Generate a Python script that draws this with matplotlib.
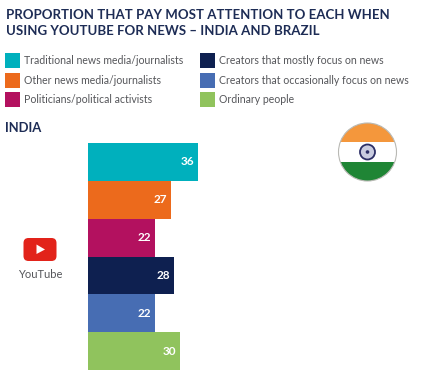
import matplotlib
matplotlib.use("Agg")
import matplotlib.pyplot as plt
from matplotlib.patches import Circle, FancyBboxPatch, Polygon, Rectangle

categories = [
    "Traditional news media/journalists",
    "Other news media/journalists",
    "Politicians/political activists",
    "Creators that mostly focus on news",
    "Creators that occasionally focus on news",
    "Ordinary people",
]
values = [36, 27, 22, 28, 22, 30]
colors = ["#00b0bd", "#ec6a1c", "#b3115f", "#0e2050", "#476db3", "#90c35d"]
title_lines = [
    "PROPORTION THAT PAY MOST ATTENTION TO EACH WHEN",
    "USING YOUTUBE FOR NEWS – INDIA AND BRAZIL",
]

W, H = 432, 373
NAVY = "#1d2c55"
GREY = "#55565a"
plt.rcParams["font.family"] = ["Lato", "DejaVu Sans"]

fig = plt.figure(figsize=(W / 100, H / 100), dpi=100)

# overlay in pixel coordinates for text, legend and icons
bg = fig.add_axes([0, 0, 1, 1])
bg.set_xlim(0, W)
bg.set_ylim(H, 0)
bg.axis("off")

bg.text(5.5, 15, title_lines[0], fontsize=9.5, fontweight="bold", color=NAVY, va="center")
bg.text(5.5, 31, title_lines[1], fontsize=9.5, fontweight="bold", color=NAVY, va="center")
bg.text(5.5, 127.5, "INDIA", fontsize=9.4, fontweight="bold", color=NAVY, va="center")

# legend, filled column by column
leg_x = [5, 200]
leg_y = [60, 80, 99.5]
for i, (name, col) in enumerate(zip(categories, colors)):
    x = leg_x[i // 3]
    y = leg_y[i % 3]
    bg.add_patch(Rectangle((x, y - 7.5), 15, 15, color=col, lw=0))
    bg.text(x + 19, y, name, fontsize=7.6, color=GREY, va="center")

# youtube icon
bg.add_patch(FancyBboxPatch((23.5, 238), 33, 23, boxstyle="round,pad=0,rounding_size=5",
                            fc="#e2231a", ec="none", mutation_aspect=1))
bg.add_patch(Polygon([[36.5, 244.5], [36.5, 254], [45, 249.5]], fc="white", ec="none"))
bg.text(40, 274, "YouTube", fontsize=8, color=GREY, ha="center", va="center")

# flag
cx, cy, r = 367.5, 152, 29
clip = Circle((cx, cy), r, transform=bg.transData)
for top, h, col in [(cy - r, 19, "#f4973c"), (cy - r + 19, 20, "white"), (cy - r + 39, 19, "#1f8535")]:
    p = bg.add_patch(Rectangle((cx - r, top), 2 * r, h, fc=col, ec="none"))
    p.set_clip_path(clip)
bg.add_patch(Circle((cx, cy), r, fc="none", ec="#b9b9b4", lw=0.8))
bg.add_patch(Circle((cx, cy), 7.5, fc="#c9cce0", ec="#2c2f66", lw=1.3))
bg.add_patch(Circle((cx, cy), 1.8, fc="#2c2f66", ec="none"))

# bars
left, right, top, bottom = 87.5, 87.5 + 3.08 * 40, 143, 370
ax = fig.add_axes([left / W, 1 - bottom / H, (right - left) / W, (bottom - top) / H])
ax.patch.set_visible(False)
ax.barh(range(len(values)), values, height=1.0, color=colors)
ax.set_xlim(0, 40)
ax.set_ylim(len(values) - 0.5, -0.5)
ax.axis("off")
for i, v in enumerate(values):
    ax.text(v - 1.3, i, str(v), color="white", fontsize=8.5, fontweight="bold", ha="right", va="center")

fig.savefig("out.png", dpi=100)
plt.close(fig)
